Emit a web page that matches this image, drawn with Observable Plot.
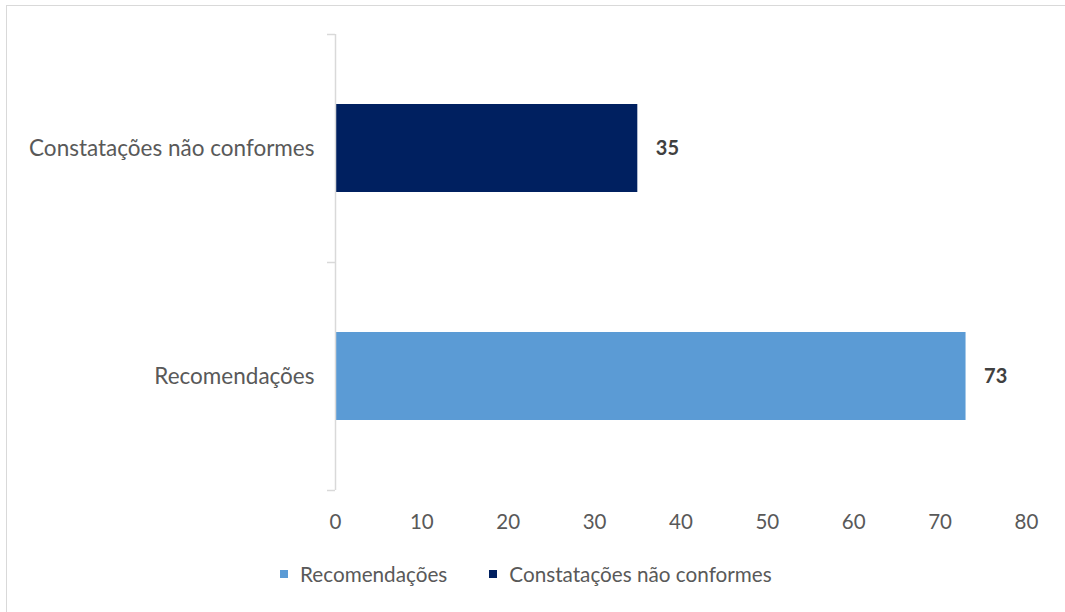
<!DOCTYPE html>
<html>
<head>
<meta charset="utf-8">
<script src="https://cdn.jsdelivr.net/npm/d3@7"></script>
<script src="https://cdn.jsdelivr.net/npm/@observablehq/plot@0.6"></script>
<style>
  html, body { margin: 0; padding: 0; background: #fff; overflow: hidden; }
  #wrap { position: relative; width: 1065px; height: 612px; overflow: hidden; font-family: Lato, "Open Sans", sans-serif; }
  #border { position: absolute; left: 6px; top: 5px; width: 1080px; height: 630px; border: 1px solid #d9d9d9; box-sizing: border-box; }
  #chart { position: absolute; left: 0; top: 0; }
  #legend { position: absolute; left: 280px; top: 562px; display: flex; align-items: center; font-size: 20.7px; color: #595959; }
  .item { display: flex; align-items: center; margin-right: 42px; }
  .sw { width: 8px; height: 8px; margin-right: 12px; }
</style>
</head>
<body>
<div id="wrap">
  <div id="border"></div>
  <div id="chart"></div>
  <div id="legend"></div>
</div>
<script>
const categories = ["Constatações não conformes", "Recomendações"];
const values = [35, 73];
const colors = ["#002060", "#5B9BD5"];
const legendOrder = ["Recomendações", "Constatações não conformes"];
const xTicks = [0, 10, 20, 30, 40, 50, 60, 70, 80];

const data = categories.map((c, i) => ({category: c, value: values[i], color: colors[i]}));

const plot = Plot.plot({
  width: 1065,
  height: 545,
  marginTop: 34,
  marginBottom: 55,
  marginLeft: 335,
  marginRight: 39,
  style: {fontFamily: "Lato, 'Open Sans', sans-serif", fontSize: "20px", color: "#595959", background: "transparent"},
  x: {domain: [0, 80], ticks: xTicks, label: null},
  y: {domain: categories, padding: 0, label: null},
  marks: [
    Plot.barX(data, {x: "value", y: "category", fill: "color", insetTop: 70, insetBottom: 70}),
    Plot.ruleX([0], {stroke: "#d9d9d9", strokeWidth: 1.5}),
    Plot.ruleY(categories, {y: d => d, x1: 0, x2: 0, insetLeft: -8, dy: -114, stroke: "#d9d9d9", strokeWidth: 1.5}),
    Plot.ruleY(categories.slice(-1), {y: d => d, x1: 0, x2: 0, insetLeft: -8, dy: 114, stroke: "#d9d9d9", strokeWidth: 1.5}),
    Plot.text(data, {x: "value", y: "category", text: d => String(d.value), textAnchor: "start", dx: 18, fontWeight: "bold", fill: "#404040", fontSize: 20}),
    Plot.axisX({tickSize: 0, tickPadding: 24, ticks: xTicks, label: null, fill: "#595959", fontSize: 20.5}),
    Plot.axisY({tickSize: 0, tickPadding: 21, label: null, fill: "#595959", fontSize: 22.5})
  ]
});
document.getElementById("chart").appendChild(plot);

const legend = document.getElementById("legend");
legendOrder.forEach(name => {
  const i = categories.indexOf(name);
  const item = document.createElement("div");
  item.className = "item";
  const sw = document.createElement("div");
  sw.className = "sw";
  sw.style.background = colors[i];
  const t = document.createElement("span");
  t.textContent = name;
  item.appendChild(sw);
  item.appendChild(t);
  legend.appendChild(item);
});
</script>
</body>
</html>
